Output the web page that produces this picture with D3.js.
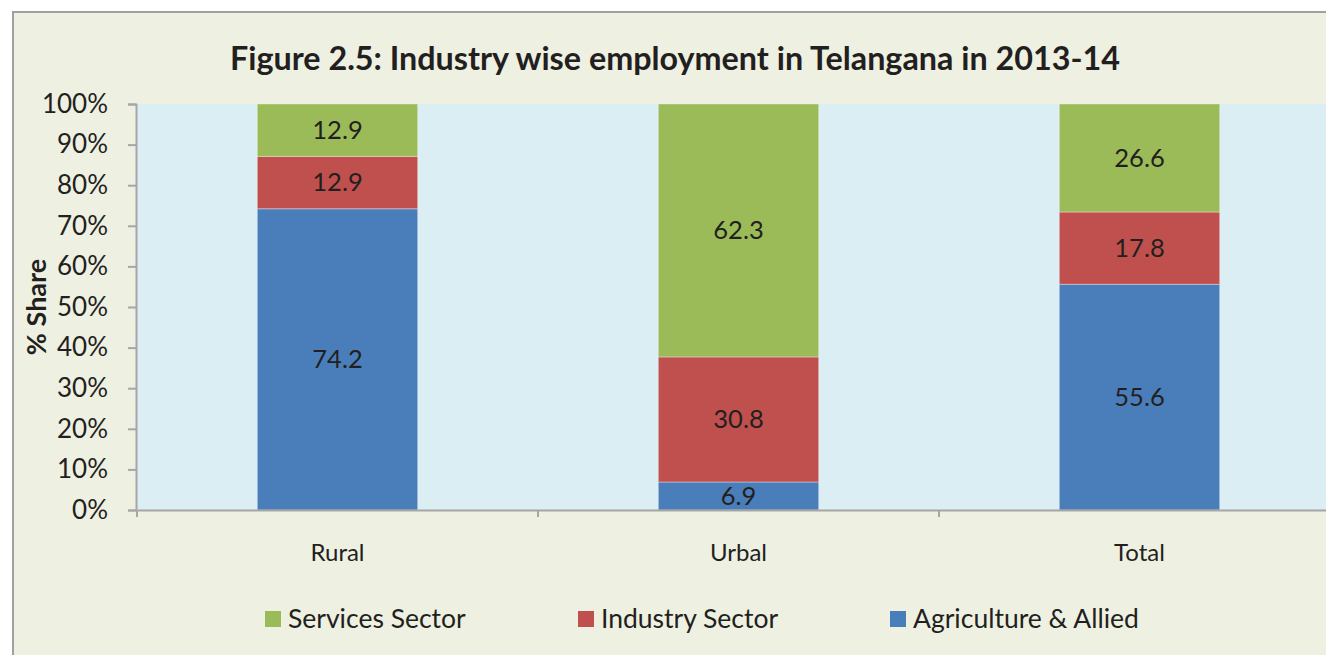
<!DOCTYPE html>
<html>
<head>
<meta charset="utf-8">
<script src="https://cdn.jsdelivr.net/npm/d3@7"></script>
<style>
  html, body { margin: 0; padding: 0; background: #ffffff; }
  svg { display: block; }
  text { font-family: Lato, "Open Sans", sans-serif; fill: #231f20; }
</style>
</head>
<body>
<svg id="chart" width="1326" height="655"></svg>
<script>
const categories = ["Rural", "Urbal", "Total"];
const seriesNames = ["Agriculture & Allied", "Industry Sector", "Services Sector"];
const agriculture = [74.2, 6.9, 55.6];
const industry = [12.9, 30.8, 17.8];
const services = [12.9, 62.3, 26.6];
const yTicks = [0, 10, 20, 30, 40, 50, 60, 70, 80, 90, 100];
const legendOrder = ["Services Sector", "Industry Sector", "Agriculture & Allied"];
const colors = {"Agriculture & Allied": "#4a7ebb", "Industry Sector": "#c0504d", "Services Sector": "#9bbb59"};

const svg = d3.select("#chart");
const W = 1326, H = 655;

// outer chart area
svg.append("rect").attr("x", 13).attr("y", 12).attr("width", W).attr("height", H)
  .attr("fill", "#eef0e1").attr("stroke", "#a0a0a0").attr("stroke-width", 2);

const plot = {left: 137, top: 104, right: 1340, bottom: 510};

svg.append("rect").attr("x", plot.left).attr("y", plot.top)
  .attr("width", plot.right - plot.left).attr("height", plot.bottom - plot.top)
  .attr("fill", "#dbeef4");

const x = d3.scaleBand().domain(categories).range([plot.left, plot.right]).paddingInner(0.6).paddingOuter(0.3);
const y = d3.scaleLinear().domain([0, 100]).range([plot.bottom, plot.top]);

const rows = categories.map((c, i) => ({
  cat: c,
  "Agriculture & Allied": agriculture[i],
  "Industry Sector": industry[i],
  "Services Sector": services[i]
}));
const stack = d3.stack().keys(seriesNames)(rows);

const g = svg.append("g");
stack.forEach(layer => {
  const key = layer.key;
  g.selectAll(null).data(layer).enter().append("rect")
    .attr("x", d => x(d.data.cat))
    .attr("y", d => y(d[1]))
    .attr("width", x.bandwidth())
    .attr("height", d => y(d[0]) - y(d[1]))
    .attr("fill", colors[key])
    .attr("stroke", "rgba(255,255,255,0.35)").attr("stroke-width", 1);
  g.selectAll(null).data(layer).enter().append("text")
    .attr("x", d => x(d.data.cat) + x.bandwidth() / 2)
    .attr("y", d => (y(d[0]) + y(d[1])) / 2)
    .attr("dy", "0.35em")
    .attr("text-anchor", "middle")
    .style("font-size", "25.5px")
    .text(d => (d[1] - d[0]).toFixed(1));
});

// Y axis
const yAxis = d3.axisLeft(y).tickValues(yTicks).tickFormat(d => d + "%").tickSize(8).tickPadding(20);
const ya = svg.append("g").attr("transform", `translate(${plot.left - 1},0)`).call(yAxis);
ya.select(".domain").attr("stroke", "#a6a6a6").attr("stroke-width", 2);
ya.selectAll(".tick line").attr("stroke", "#a6a6a6").attr("stroke-width", 2);
ya.selectAll(".tick text").style("font-size", "26px").style("font-family", "Lato, sans-serif").attr("fill", "#231f20");

// X axis
const xa = svg.append("g").attr("transform", `translate(0,${plot.bottom})`)
  .call(d3.axisBottom(x).tickSize(0).tickPadding(34));
xa.select(".domain").attr("stroke", "#a6a6a6").attr("stroke-width", 2);
xa.selectAll(".tick text").style("font-size", "24px").style("font-family", "Lato, sans-serif").attr("fill", "#231f20");
// category boundary ticks
const bounds = d3.range(categories.length + 1).map(i => plot.left + i * x.step());
svg.append("g").selectAll("line").data(bounds).enter().append("line")
  .attr("x1", d => d).attr("x2", d => d)
  .attr("y1", plot.bottom).attr("y2", plot.bottom + 7)
  .attr("stroke", "#a6a6a6").attr("stroke-width", 2);

// Title
svg.append("text").attr("x", 675).attr("y", 70).attr("text-anchor", "middle")
  .style("font-size", "32.3px").style("font-weight", "bold")
  .text("Figure 2.5: Industry wise employment in Telangana in 2013-14");

// Y axis title
svg.append("text").attr("transform", "translate(46,307) rotate(-90)")
  .attr("text-anchor", "middle").style("font-size", "27px").style("font-weight", "bold")
  .text("% Share");

// Legend
const legendX = [265, 578, 890];
const lg = svg.append("g");
legendOrder.forEach((name, i) => {
  lg.append("rect").attr("x", legendX[i]).attr("y", 611).attr("width", 16).attr("height", 16)
    .attr("fill", colors[name]);
  lg.append("text").attr("x", legendX[i] + 23).attr("y", 619).attr("dy", "0.35em")
    .style("font-size", "26.5px").text(name);
});
</script>
</body>
</html>
